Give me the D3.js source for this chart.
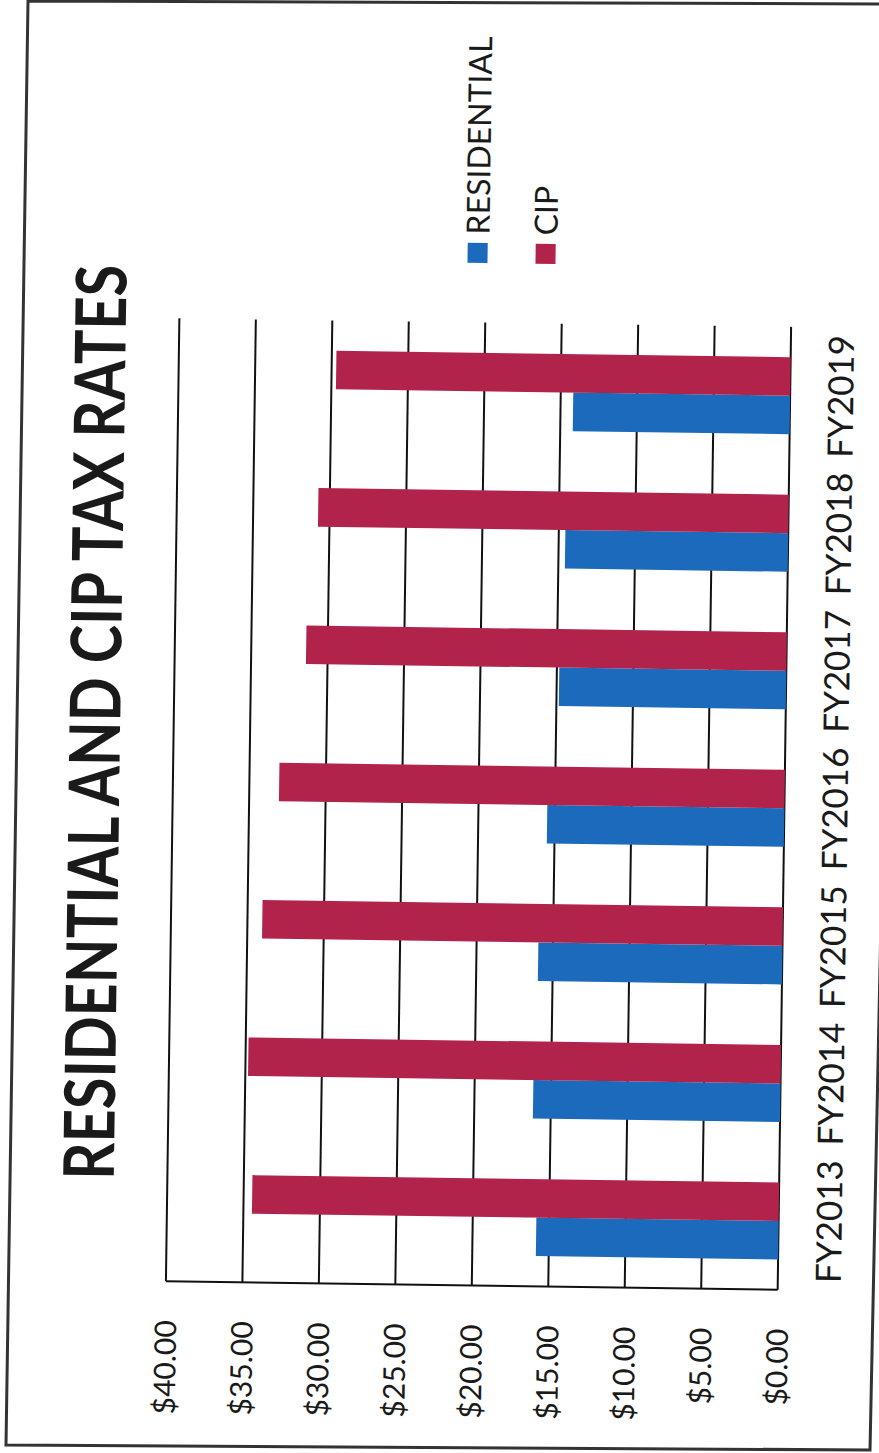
<!DOCTYPE html>
<html>
<head>
<meta charset="utf-8">
<script src="https://cdn.jsdelivr.net/npm/d3@7/dist/d3.min.js"></script>
<style>
  html, body { margin: 0; padding: 0; background: #fff; }
  svg { display: block; }
  text { font-family: Lato, "Open Sans", sans-serif; fill: #1a1a1a; }
</style>
</head>
<body>
<svg id="chart" width="879" height="1453"></svg>
<script>
const title = "RESIDENTIAL AND CIP TAX RATES";
const categories = ["FY2013", "FY2014", "FY2015", "FY2016", "FY2017", "FY2018", "FY2019"];
const seriesNames = ["RESIDENTIAL", "CIP"];
const residential = [15.84, 16.16, 15.96, 15.50, 14.84, 14.57, 14.18];
const cip = [34.44, 34.82, 34.03, 33.05, 31.41, 30.75, 29.70];
const tickValues = [0, 5, 10, 15, 20, 25, 30, 35, 40];
const tickLabels = ["$0.00", "$5.00", "$10.00", "$15.00", "$20.00", "$25.00", "$30.00", "$35.00", "$40.00"];
const colors = { RESIDENTIAL: "#1c6abb", CIP: "#b2234b" };

const svg = d3.select("#chart");
const tilt = 0.8;

// scanned page frame (slightly skewed)
svg.append("polygon")
  .attr("points", "28,1 900,4 870,1450 6,1445")
  .attr("fill", "none").attr("stroke", "#333").attr("stroke-width", 3);

const root = svg.append("g").attr("transform", `rotate(${tilt},440,726)`);

const plotTop = 322, plotBottom = 1285;
const x = d3.scaleLinear().domain([0, 40]).range([785.5, 173.7]);
const y = d3.scaleBand().domain(categories).range([plotBottom, plotTop])
  .paddingInner(0.44).paddingOuter(0.22);
const ySub = d3.scaleBand().domain(["CIP", "RESIDENTIAL"]).range([0, y.bandwidth()]);

// gridlines
root.append("g").selectAll("line").data(tickValues).join("line")
  .attr("x1", d => x(d)).attr("x2", d => x(d))
  .attr("y1", plotTop).attr("y2", plotBottom)
  .attr("stroke", "#111").attr("stroke-width", 2);

// category axis line
root.append("line").attr("x1", x(40)).attr("x2", x(0))
  .attr("y1", plotBottom).attr("y2", plotBottom)
  .attr("stroke", "#111").attr("stroke-width", 2);

// bars
const rows = categories.map((c, i) => ({ cat: c, RESIDENTIAL: residential[i], CIP: cip[i] }));
const groups = root.append("g").selectAll("g").data(rows).join("g")
  .attr("transform", d => `translate(0,${y(d.cat)})`);
groups.selectAll("rect").data(d => seriesNames.map(s => ({ s, v: d[s] }))).join("rect")
  .attr("x", d => x(d.v)).attr("width", d => x(0) - x(d.v))
  .attr("y", d => ySub(d.s)).attr("height", ySub.bandwidth())
  .attr("fill", d => colors[d.s]);

// value tick labels (rotated)
root.append("g").selectAll("text").data(tickValues).join("text")
  .attr("transform", d => `translate(${x(d)},1324) rotate(-90)`)
  .attr("text-anchor", "end").attr("dy", "0.36em")
  .attr("font-size", 30)
  .text((d, i) => tickLabels[i]);

// category labels
root.append("g").selectAll("text").data(categories).join("text")
  .attr("transform", d => `translate(836,${y(d) + y.bandwidth() / 2}) rotate(-90)`)
  .attr("text-anchor", "middle").attr("dy", "0.36em")
  .attr("font-size", 35)
  .text(d => d);

// title
root.append("text")
  .attr("transform", "translate(95,727) rotate(-90)")
  .attr("text-anchor", "middle").attr("dy", "0.36em")
  .attr("font-size", 70).attr("font-weight", "bold")
  .attr("textLength", 915).attr("lengthAdjust", "spacingAndGlyphs")
  .text(title);

// legend
const legendPos = [{ s: "RESIDENTIAL", cx: 471 }, { s: "CIP", cx: 539 }];
const lg = root.append("g").selectAll("g").data(legendPos).join("g");
lg.append("rect").attr("x", d => d.cx - 10).attr("y", 242.5).attr("width", 20).attr("height", 20)
  .attr("fill", d => colors[d.s]);
lg.append("text")
  .attr("transform", d => `translate(${d.cx},234) rotate(-90)`)
  .attr("text-anchor", "start").attr("dy", "0.36em")
  .attr("font-size", 32)
  .text(d => d.s);
</script>
</body>
</html>
